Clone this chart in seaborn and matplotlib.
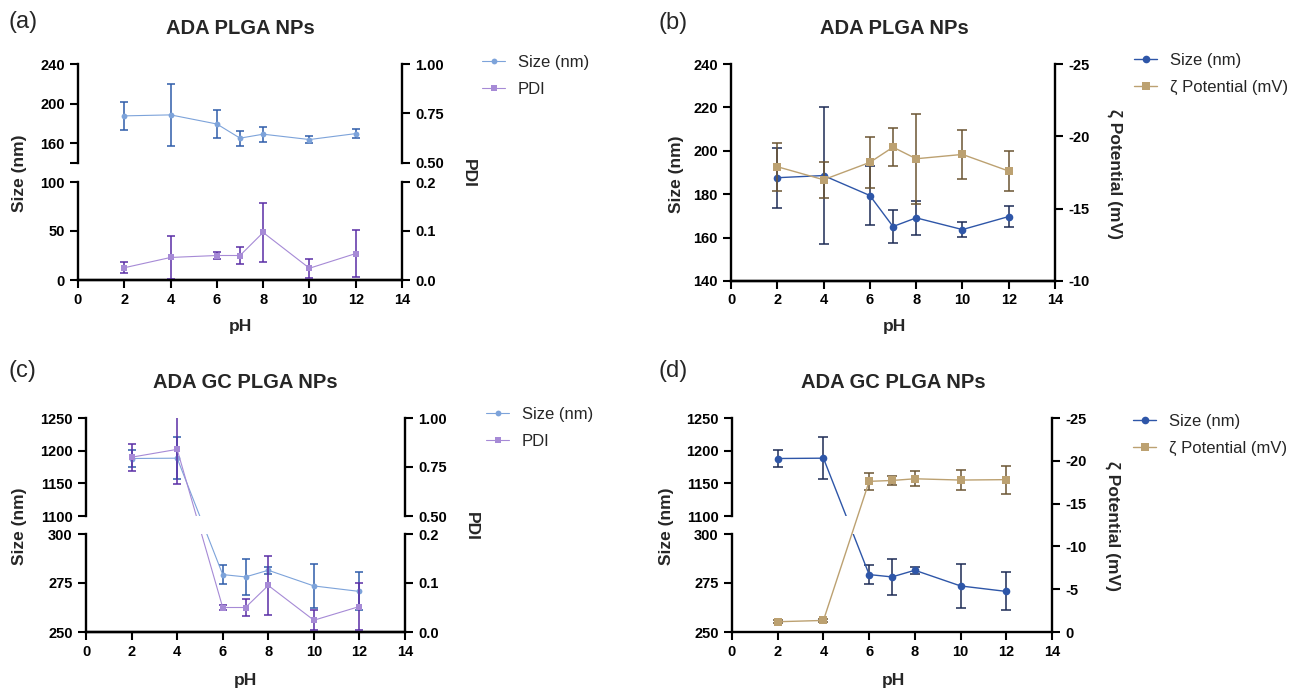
import numpy as np
import matplotlib
matplotlib.use("Agg")
import matplotlib.pyplot as plt
import seaborn as sns

# pH values shared by every panel
ph = [2, 4, 6, 7, 8, 10, 12]

# ADA PLGA NPs
ada_size = [187.6, 188.6, 179.4, 165.1, 169.1, 163.7, 169.7]
ada_size_sd = [13.8, 31.5, 13.7, 7.7, 7.7, 3.5, 4.7]
ada_pdi = [0.025, 0.046, 0.050, 0.050, 0.097, 0.024, 0.054]
ada_pdi_sd = [0.011, 0.044, 0.0075, 0.018, 0.061, 0.019, 0.048]
ada_zeta = [-17.9, -17.0, -18.2, -19.25, -18.45, -18.75, -17.6]
ada_zeta_sd = [1.65, 1.25, 1.75, 1.3, 3.1, 1.7, 1.4]

# ADA GC PLGA NPs
gc_size = [1188.0, 1188.5, 279.3, 278.1, 281.5, 273.5, 270.7]
gc_size_sd = [13.5, 32.0, 4.8, 9.0, 1.8, 11.0, 9.7]
gc_pdi = [0.80, 0.84, 0.050, 0.050, 0.095, 0.024, 0.052]
gc_pdi_sd = [0.068, 0.175, 0.006, 0.018, 0.060, 0.020, 0.048]
gc_zeta = [-1.2, -1.35, -17.6, -17.7, -17.9, -17.75, -17.8]
gc_zeta_sd = [0.2, 0.2, 1.0, 0.55, 0.9, 1.2, 1.65]

x_ticks = [0, 2, 4, 6, 8, 10, 12, 14]

# colours
c_size = "#7DA3DA"
c_size_err = "#2F5DAA"
c_pdi = "#A68AD6"
c_pdi_err = "#5A2EA6"
c_size2 = "#2E56A8"
c_size2_err = "#1C2B55"
c_zeta = "#BCA171"
c_zeta_err = "#6B5533"

sns.set_style("ticks")
plt.rcParams["font.family"] = ["Liberation Sans", "DejaVu Sans"]
plt.rcParams["axes.linewidth"] = 1.7
plt.rcParams["xtick.major.width"] = 1.5
plt.rcParams["ytick.major.width"] = 1.5
plt.rcParams["xtick.major.size"] = 5.5
plt.rcParams["ytick.major.size"] = 5.5
plt.rcParams["xtick.major.pad"] = 3.5
plt.rcParams["ytick.major.pad"] = 4

W, H = 1293, 690
fig = plt.figure(figsize=(W / 100, H / 100), dpi=100)

TICK_FS = 10.5
LAB_FS = 12.5


def add_ax(x0, x1, y0, y1):
    # pixel box -> figure coordinates
    return fig.add_axes([x0 / W, 1 - y1 / H, (x1 - x0) / W, (y1 - y0) / H])


def broken_funcs(lo, hi, lo2, hi2, gap):
    # piecewise linear scale: [lo,hi] -> [0,1], gap, [lo2,hi2] -> [1+gap, 2+gap]
    xp = np.array([lo, hi, lo2, hi2], float)
    fp = np.array([0, 1, 1 + gap, 2 + gap], float)
    s0 = 1 / (hi - lo)
    s1 = 1 / (hi2 - lo2)

    def fwd(v):
        v = np.asarray(v, float)
        out = np.interp(v, xp, fp)
        out = np.where(v < lo, (v - lo) * s0, out)
        out = np.where(v > hi2, fp[3] + (v - hi2) * s1, out)
        return out

    def inv(u):
        u = np.asarray(u, float)
        out = np.interp(u, fp, xp)
        out = np.where(u < 0, lo + u / s0, out)
        out = np.where(u > fp[3], hi2 + (u - fp[3]) / s1, out)
        return out

    return fwd, inv


def style_ax(ax, side="left", bottom=True):
    for s in ["top", "right", "left", "bottom"]:
        ax.spines[s].set_visible(False)
    ax.spines[side].set_visible(True)
    ax.spines[side].set_color("black")
    if bottom:
        ax.spines["bottom"].set_visible(True)
        ax.spines["bottom"].set_color("black")
    ax.set_facecolor("none")
    ax.tick_params(axis="y", left=(side == "left"), right=(side == "right"),
                   labelleft=(side == "left"), labelright=(side == "right"),
                   labelsize=TICK_FS, colors="black")
    ax.tick_params(axis="x", bottom=bottom, labelbottom=bottom, labelsize=TICK_FS, colors="black")
    ax.set_xlim(0, 14)
    ax.set_xticks(x_ticks)
    for t in ax.get_xticklabels() + ax.get_yticklabels():
        t.set_fontweight("bold")
    ax.set_xlabel("")
    ax.set_ylabel("")
    ax.grid(False)


def series(ax, y, sd, color, ecolor, marker, ms, lw, label, cap):
    ax.errorbar(ph, y, yerr=sd, fmt="none", ecolor=ecolor, elinewidth=1.1,
                capsize=cap, capthick=1.1, zorder=2)
    sns.lineplot(x=ph, y=y, ax=ax, color=color, marker=marker, markersize=ms,
                 markeredgecolor=color, markeredgewidth=0, linewidth=lw,
                 label=label, legend=False, zorder=3)


def set_ticks(ax, ticks, labels):
    ax.set_yticks(ticks, labels)
    for t in ax.get_yticklabels():
        t.set_fontweight("bold")


def broken_panel(x0, x1, up, low, left_lims, right_lims, left_ticks, right_ticks,
                 size, size_sd, pdi, pdi_sd):
    gap = (low[0] - up[1]) / (low[1] - low[0])
    (l_lo, l_hi), (l_lo2, l_hi2) = left_lims
    (r_lo, r_hi), (r_lo2, r_hi2) = right_lims
    lf = broken_funcs(l_lo, l_hi, l_lo2, l_hi2, gap)
    rf = broken_funcs(r_lo, r_hi, r_lo2, r_hi2, gap)
    ax_up = add_ax(x0, x1, up[0], up[1])
    ax_lo = add_ax(x0, x1, low[0], low[1])
    handles = []
    for ax, seg in [(ax_up, 1), (ax_lo, 0)]:
        axr = ax.twinx()
        series(ax, size, size_sd, c_size, c_size_err, "o", 4.2, 0.8, "Size (nm)", 2.6)
        series(axr, pdi, pdi_sd, c_pdi, c_pdi_err, "s", 5.0, 0.8, "PDI", 2.6)
        ax.set_yscale("function", functions=lf)
        axr.set_yscale("function", functions=rf)
        if seg == 1:
            ax.set_ylim(l_lo2, l_hi2)
            axr.set_ylim(r_lo2, r_hi2)
            set_ticks(ax, *left_ticks[1])
            set_ticks(axr, *right_ticks[1])
            style_ax(ax, "left", bottom=False)
            style_ax(axr, "right", bottom=False)
            handles = ax.get_legend_handles_labels()[0] + axr.get_legend_handles_labels()[0]
        else:
            ax.set_ylim(l_lo, l_hi)
            axr.set_ylim(r_lo, r_hi)
            set_ticks(ax, *left_ticks[0])
            set_ticks(axr, *right_ticks[0])
            style_ax(ax, "left", bottom=True)
            style_ax(axr, "right", bottom=True)
    return handles


def add_legend(handles, x, y):
    fig.legend(handles, [h.get_label() for h in handles], loc="upper left",
               bbox_to_anchor=(x / W, 1 - y / H), frameon=False, fontsize=12,
               handlelength=1.4, handletextpad=0.75, labelspacing=0.7,
               borderpad=0, borderaxespad=0)


def texts(label, lx, ly, title, tx, ty, ylab_l, yl_x, ylab_r, yr_x, yc, ph_y):
    fig.text(lx / W, 1 - ly / H, label, fontsize=17, ha="left", va="center")
    fig.text(tx / W, 1 - ty / H, title, fontsize=14.5, fontweight="bold", ha="center", va="center")
    fig.text(yl_x / W, 1 - yc / H, ylab_l, fontsize=LAB_FS, fontweight="bold",
             rotation=90, ha="center", va="center")
    fig.text(yr_x / W, 1 - yc / H, ylab_r, fontsize=LAB_FS, fontweight="bold",
             rotation=270, ha="center", va="center")
    fig.text(tx / W, 1 - ph_y / H, "pH", fontsize=LAB_FS, fontweight="bold", ha="center", va="center")


# ---------------- (a) ----------------
h = broken_panel(78, 402, (64, 163), (182, 280),
                 [(0, 100), (140, 240)], [(0, 0.2), (0.5, 1.0)],
                 [([0, 50, 100], ["0", "50", "100"]),
                  ([140, 160, 200, 240], ["", "160", "200", "240"])],
                 [([0, 0.1, 0.2], ["0.0", "0.1", "0.2"]),
                  ([0.5, 0.75, 1.0], ["0.50", "0.75", "1.00"])],
                 ada_size, ada_size_sd, ada_pdi, ada_pdi_sd)
add_legend(h, 482, 55)
texts("(a)", 8, 22, "ADA PLGA NPs", 240, 29, "Size (nm)", 20, "PDI", 468, 173, 327)

# ---------------- (b) ----------------
ax_b = add_ax(731, 1055, 64, 281)
ax_br = ax_b.twinx()
series(ax_b, ada_size, ada_size_sd, c_size2, c_size2_err, "o", 5.5, 1.0, "Size (nm)", 3.3)
series(ax_br, ada_zeta, ada_zeta_sd, c_zeta, c_zeta_err, "s", 6.0, 1.0, "ζ Potential (mV)", 3.3)
ax_b.set_ylim(140, 240)
ax_br.set_ylim(-10, -25)
set_ticks(ax_b, [140, 160, 180, 200, 220, 240], ["140", "160", "180", "200", "220", "240"])
set_ticks(ax_br, [-25, -20, -15, -10], ["-25", "-20", "-15", "-10"])
style_ax(ax_b, "left")
style_ax(ax_br, "right")
add_legend(ax_b.get_legend_handles_labels()[0] + ax_br.get_legend_handles_labels()[0], 1134, 53)
texts("(b)", 658, 23, "ADA PLGA NPs", 894, 29, "Size (nm)", 676, "ζ Potential (mV)", 1115, 174, 327)

# ---------------- (c) ----------------
h = broken_panel(86, 405, (418, 516), (534, 632),
                 [(250, 300), (1100, 1250)], [(0, 0.2), (0.5, 1.0)],
                 [([250, 275, 300], ["250", "275", "300"]),
                  ([1100, 1150, 1200, 1250], ["1100", "1150", "1200", "1250"])],
                 [([0, 0.1, 0.2], ["0.0", "0.1", "0.2"]),
                  ([0.5, 0.75, 1.0], ["0.50", "0.75", "1.00"])],
                 gc_size, gc_size_sd, gc_pdi, gc_pdi_sd)
add_legend(h, 486, 407)
texts("(c)", 8, 371, "ADA GC PLGA NPs", 245, 383, "Size (nm)", 20, "PDI", 471, 526, 680)

# ---------------- (d) ----------------
gap_d = (534 - 516) / (632 - 534)
fd = broken_funcs(250, 300, 1100, 1250, gap_d)
ax_dr = add_ax(732, 1052, 418, 632)
handles_d = []
for seg, (y0, y1) in [(1, (418, 516)), (0, (534, 632))]:
    ax = add_ax(732, 1052, y0, y1)
    series(ax, gc_size, gc_size_sd, c_size2, c_size2_err, "o", 5.5, 1.0, "Size (nm)", 3.3)
    ax.set_yscale("function", functions=fd)
    if seg == 1:
        ax.set_ylim(1100, 1250)
        set_ticks(ax, [1100, 1150, 1200, 1250], ["1100", "1150", "1200", "1250"])
        style_ax(ax, "left", bottom=False)
        handles_d = ax.get_legend_handles_labels()[0]
    else:
        ax.set_ylim(250, 300)
        set_ticks(ax, [250, 275, 300], ["250", "275", "300"])
        style_ax(ax, "left", bottom=True)
series(ax_dr, gc_zeta, gc_zeta_sd, c_zeta, c_zeta_err, "s", 6.0, 1.0, "ζ Potential (mV)", 3.3)
ax_dr.set_ylim(0, -25)
set_ticks(ax_dr, [-25, -20, -15, -10, -5, 0], ["-25", "-20", "-15", "-10", "-5", "0"])
style_ax(ax_dr, "right", bottom=False)
ax_dr.set_zorder(5)
add_legend(handles_d + ax_dr.get_legend_handles_labels()[0], 1133, 414)
texts("(d)", 658, 371, "ADA GC PLGA NPs", 893, 383, "Size (nm)", 667, "ζ Potential (mV)", 1113, 526, 680)

fig.savefig("out.png", dpi=100)
